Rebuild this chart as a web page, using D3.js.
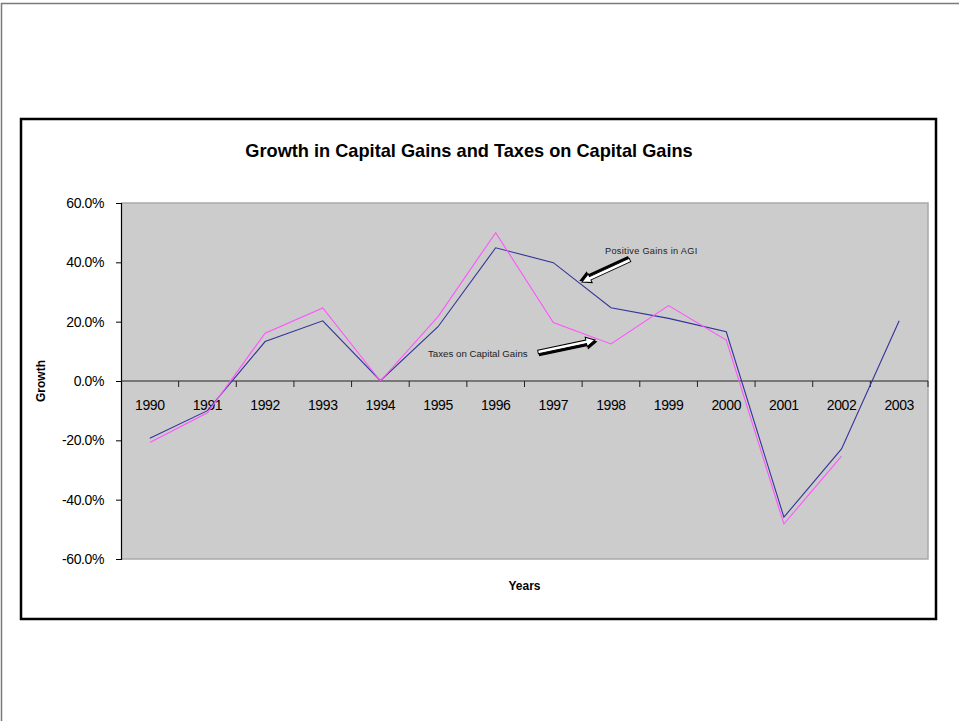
<!DOCTYPE html>
<html>
<head>
<meta charset="utf-8">
<script src="https://cdn.jsdelivr.net/npm/d3@7"></script>
<style>
  html, body { margin: 0; padding: 0; background: #fff; }
  svg { display: block; font-family: "Liberation Sans", Arial, sans-serif; }
</style>
</head>
<body>
<svg id="chart" width="959" height="721"></svg>
<script>
// Annual growth, in percent
const years = ["1990", "1991", "1992", "1993", "1994", "1995", "1996",
               "1997", "1998", "1999", "2000", "2001", "2002", "2003"];
const agiGainsGrowth = [-19.3, -10.0, 13.3, 20.3, 0.1, 18.3, 44.9,
                        39.9, 24.7, 21.1, 16.6, -45.9, -22.9, 20.3];
const capGainsTaxGrowth = [-20.7, -10.7, 16.1, 24.6, 0.0, 21.7, 50.0,
                           19.7, 12.5, 25.4, 13.8, -48.2, -25.3, null];
const yTicks = [-60, -40, -20, 0, 20, 40, 60];

const title = "Growth in Capital Gains and Taxes on Capital Gains";
const xTitle = "Years";
const yTitle = "Growth";
const agiLabel = "Positive Gains in AGI";
const taxLabel = "Taxes on Capital Gains";

const svg = d3.select("#chart");

// page outline
svg.append("path")
  .attr("d", "M1.5,721 V3.5 H959")
  .attr("fill", "none").attr("stroke", "#7a7a7a").attr("stroke-width", 1.5);

// chart frame
svg.append("rect")
  .attr("x", 21).attr("y", 119).attr("width", 915).attr("height", 500)
  .attr("fill", "#fff").attr("stroke", "#000").attr("stroke-width", 2.5);

const plot = { left: 121, right: 928, top: 203, bottom: 559 };

const x = d3.scaleBand().domain(years).range([plot.left, plot.right]).padding(0);
const y = d3.scaleLinear().domain([-60, 60]).range([plot.bottom, plot.top]);

// plot background
svg.append("rect")
  .attr("x", plot.left).attr("y", plot.top)
  .attr("width", plot.right - plot.left).attr("height", plot.bottom - plot.top)
  .attr("fill", "#cccccc");
svg.append("path")
  .attr("d", `M${plot.left},${plot.top} H${plot.right} V${plot.bottom} H${plot.left}`)
  .attr("fill", "none").attr("stroke", "#a9a9a9").attr("stroke-width", 1.5);

// title
svg.append("text")
  .attr("x", 469).attr("y", 156.5)
  .attr("text-anchor", "middle")
  .attr("font-size", 18.2).attr("font-weight", "bold")
  .text(title);

// y axis
const pct = d => d.toFixed(1) + "%";
const yAxis = d3.axisLeft(y)
  .tickValues(yTicks)
  .tickSize(5)
  .tickPadding(12)
  .tickFormat(pct);
const gy = svg.append("g").attr("transform", `translate(${plot.left},0)`).call(yAxis);
gy.select(".domain").attr("stroke", "#000").attr("stroke-width", 1.2);
gy.selectAll(".tick line").attr("stroke", "#000");
gy.selectAll(".tick text")
  .attr("font-family", "'Liberation Sans', Arial, sans-serif")
  .attr("font-size", 14).attr("letter-spacing", "-0.4px").attr("fill", "#000");

// x axis along zero line: ticks between categories
const boundaries = years.map(d => x(d) + x.bandwidth());
const gx = svg.append("g");
gx.append("line")
  .attr("x1", plot.left).attr("x2", plot.right)
  .attr("y1", y(0)).attr("y2", y(0))
  .attr("stroke", "#222").attr("stroke-width", 1.2);
gx.selectAll("line.tick")
  .data(boundaries)
  .join("line")
  .attr("class", "tick")
  .attr("x1", d => d).attr("x2", d => d)
  .attr("y1", y(0)).attr("y2", y(0) + 6)
  .attr("stroke", "#222");
gx.selectAll("text")
  .data(years)
  .join("text")
  .attr("x", d => x(d) + x.bandwidth() / 2)
  .attr("y", y(0) + 29)
  .attr("text-anchor", "middle")
  .attr("font-size", 14).attr("letter-spacing", "-0.4px")
  .text(d => d);

// axis titles
svg.append("text")
  .attr("x", (plot.left + plot.right) / 2).attr("y", 590)
  .attr("text-anchor", "middle")
  .attr("font-size", 12).attr("font-weight", "bold")
  .text(xTitle);
svg.append("text")
  .attr("transform", `translate(45,${(plot.top + plot.bottom) / 2}) rotate(-90)`)
  .attr("text-anchor", "middle")
  .attr("font-size", 12).attr("font-weight", "bold")
  .text(yTitle);

// series lines
const line = d3.line()
  .defined(d => d != null)
  .x((d, i) => x(years[i]) + x.bandwidth() / 2)
  .y(d => y(d));

svg.append("path")
  .datum(agiGainsGrowth)
  .attr("d", line)
  .attr("fill", "none").attr("stroke", "#333399").attr("stroke-width", 1.1);
svg.append("path")
  .datum(capGainsTaxGrowth)
  .attr("d", line)
  .attr("fill", "none").attr("stroke", "#ff55ff").attr("stroke-width", 1.1);

// callout labels with block arrows
function blockArrow(x1, y1, x2, y2) {
  const len = Math.hypot(x2 - x1, y2 - y1);
  const ang = Math.atan2(y2 - y1, x2 - x1) * 180 / Math.PI;
  const hw = 1.8, headW = 4.8, headL = 9;
  const pts = [[0, -hw], [len - headL, -hw], [len - headL, -headW], [len, 0],
               [len - headL, headW], [len - headL, hw], [0, hw]];
  const g = svg.append("g").attr("transform", `translate(${x1},${y1}) rotate(${ang})`);
  const d = "M" + pts.map(p => p.join(",")).join("L") + "Z";
  g.append("path").attr("d", d)
    .attr("transform", "translate(0.8,2)")
    .attr("fill", "#000").attr("stroke", "#000").attr("stroke-width", 1.2);
  g.append("path").attr("d", d)
    .attr("fill", "#fff").attr("stroke", "#000").attr("stroke-width", 1);
}

svg.append("text")
  .attr("x", 605).attr("y", 254)
  .attr("font-size", 9.2).attr("letter-spacing", "0.3px").attr("fill", "#222")
  .text(agiLabel);
blockArrow(630, 260, 582, 282);

svg.append("text")
  .attr("x", 428).attr("y", 356.5)
  .attr("font-size", 9.7).attr("fill", "#222")
  .text(taxLabel);
blockArrow(538, 352, 595, 340);
</script>
</body>
</html>
